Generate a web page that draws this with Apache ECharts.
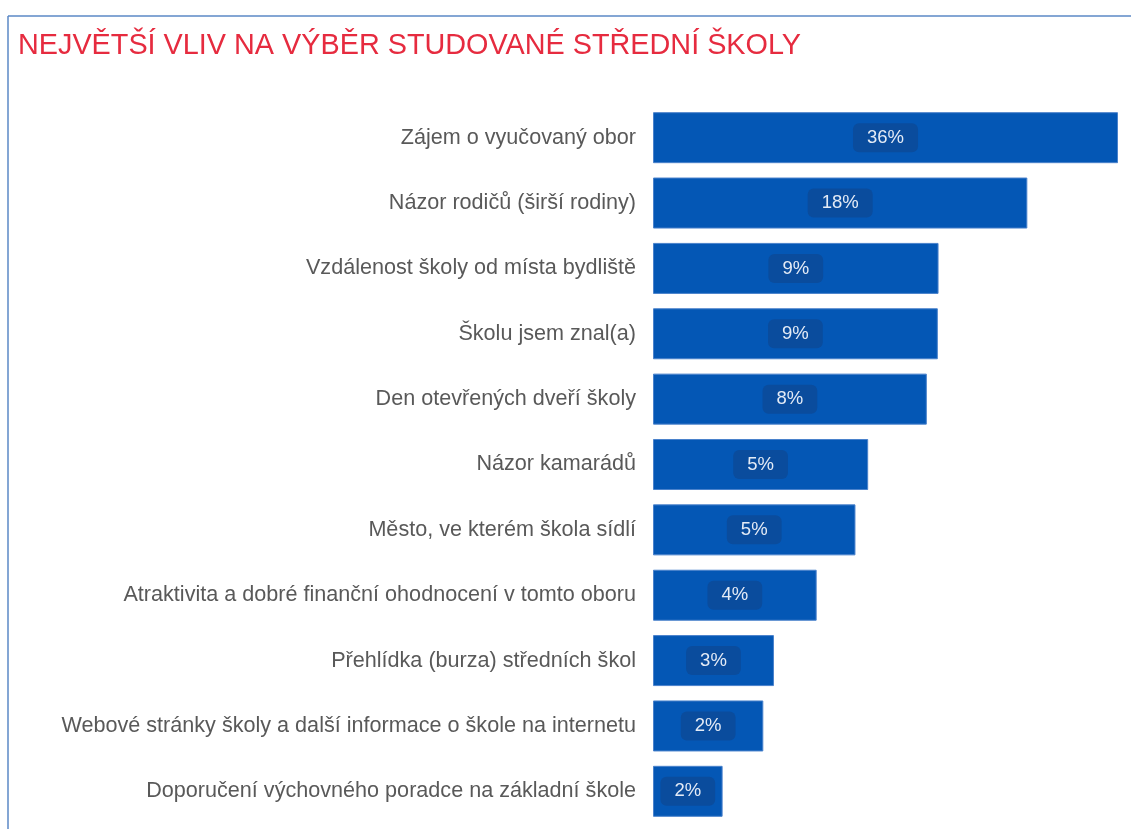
<!DOCTYPE html>
<html>
<head>
<meta charset="utf-8">
<script src="https://cdn.jsdelivr.net/npm/echarts@6/dist/echarts.min.js"></script>
<style>
  html, body { margin: 0; padding: 0; background: #fff; }
  #chart { width: 1131px; height: 829px; }
</style>
</head>
<body>
<div id="chart"></div>
<script>
// kategorie (shora dolů)
var categories = [
  'Zájem o vyučovaný obor',
  'Názor rodičů (širší rodiny)',
  'Vzdálenost školy od místa bydliště',
  'Školu jsem znal(a)',
  'Den otevřených dveří školy',
  'Názor kamarádů',
  'Město, ve kterém škola sídlí',
  'Atraktivita a dobré finanční ohodnocení v tomto oboru',
  'Přehlídka (burza) středních škol',
  'Webové stránky školy a další informace o škole na internetu',
  'Doporučení výchovného poradce na základní škole'
];
// podíl odpovědí v % (odečteno z délky pruhů, log. měřítko)
var shares = [36, 17.9, 9.03, 8.98, 8.25, 5.25, 4.76, 3.53, 2.54, 2.34, 1.71];

var chart = echarts.init(document.getElementById('chart'));

var option = {
  animation: false,
  title: {
    text: 'NEJVĚTŠÍ VLIV NA VÝBĚR STUDOVANÉ STŘEDNÍ ŠKOLY',
    left: 18,
    top: 32,
    padding: 0,
    textStyle: {
      color: '#e62b3f',
      fontFamily: 'Liberation Sans, Arial, sans-serif',
      fontWeight: 'normal',
      fontSize: 28.8
    }
  },
  graphic: [
    { type: 'line', shape: { x1: 8, y1: 16, x2: 1131, y2: 16 }, style: { stroke: '#5b88c6', lineWidth: 1.5 } },
    { type: 'line', shape: { x1: 8, y1: 16, x2: 8, y2: 829 }, style: { stroke: '#5b88c6', lineWidth: 1.5 } }
  ],
  grid: { left: 653, right: 13, top: 105, bottom: 5 },
  xAxis: {
    type: 'log',
    logBase: 10,
    min: 1,
    max: 36,
    show: false
  },
  yAxis: {
    type: 'category',
    data: categories,
    inverse: true,
    axisLine: { show: false },
    axisTick: { show: false },
    axisLabel: {
      margin: 17,
      color: '#595959',
      fontFamily: 'Liberation Sans, Arial, sans-serif',
      fontSize: 21.6
    }
  },
  series: [{
    type: 'bar',
    data: shares,
    barWidth: 51,
    itemStyle: {
      color: '#0457b5',
      borderColor: '#4a82cc',
      borderWidth: 1
    },
    label: {
      show: true,
      position: 'inside',
      formatter: function (p) { return Math.round(p.value) + '%'; },
      color: '#e4ebf6',
      fontFamily: 'Liberation Sans, Arial, sans-serif',
      fontSize: 18.5,
      backgroundColor: '#0a4c9d',
      borderRadius: 6,
      padding: [5, 14]
    }
  }]
};

chart.setOption(option);
</script>
</body>
</html>
